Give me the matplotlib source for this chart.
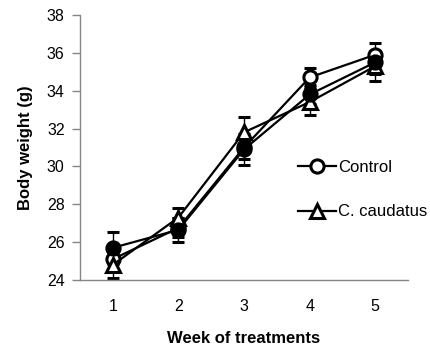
import matplotlib
matplotlib.use("Agg")
import matplotlib.pyplot as plt
from matplotlib.lines import Line2D

weeks = [1, 2, 3, 4, 5]

control = [25.1, 26.75, 31.0, 34.7, 35.9]
control_err = [0.5, 0.5, 0.6, 0.5, 0.6]

caudatus = [24.8, 27.3, 31.8, 33.4, 35.3]
caudatus_err = [0.7, 0.5, 0.8, 0.7, 0.8]

third = [25.7, 26.65, 30.9, 33.8, 35.5]
third_err = [0.85, 0.65, 0.8, 0.5, 0.6]

yticks = [24, 26, 28, 30, 32, 34, 36, 38]

plt.rcParams["font.family"] = ["Liberation Sans", "DejaVu Sans"]

fig = plt.figure(figsize=(4.3, 3.51), dpi=100)
ax = fig.add_axes([0.186, 0.2023, 0.763, 0.755])

common = dict(color="black", lw=1.6, ms=9.5, mew=2.2, elinewidth=1, capsize=4, capthick=1)

# open markers first, the filled series sits on top as in the original
ax.errorbar(weeks, control, yerr=control_err, marker="o", mfc="white", **common)
ax.errorbar(weeks, caudatus, yerr=caudatus_err, marker="^", mfc="white", **common)
ax.errorbar(weeks, third, yerr=third_err, marker="o", mfc="black", **common)

ax.set_xlim(0.5, 5.5)
ax.set_ylim(24, 38)
ax.set_xticks(weeks)
ax.set_yticks(yticks)
ax.tick_params(axis="x", length=0, labelsize=11.5, pad=14)
ax.tick_params(axis="y", length=6, width=1, color="#868686", labelsize=11.5, pad=5)

for side in ["top", "right"]:
    ax.spines[side].set_visible(False)
for side in ["left", "bottom"]:
    ax.spines[side].set_color("#868686")
    ax.spines[side].set_linewidth(1)

ax.set_xlabel("Week of treatments", fontsize=12, fontweight="bold", labelpad=12)
ax.set_ylabel("Body weight (g)", fontsize=12, fontweight="bold", labelpad=10)

handles = [
    Line2D([], [], color="black", lw=1.6, marker="o", ms=9.5, mew=2.2, mfc="white"),
    Line2D([], [], color="black", lw=1.6, marker="^", ms=9.5, mew=2.2, mfc="white"),
]
ax.legend(handles, ["Control", "C. caudatus"],
          loc="center left", bbox_to_anchor=(0.665, 0.34), frameon=False,
          fontsize=12, handlelength=2.3, handletextpad=0.1,
          labelspacing=1.75, borderpad=0, borderaxespad=0)

fig.savefig("out.png", dpi=100)
